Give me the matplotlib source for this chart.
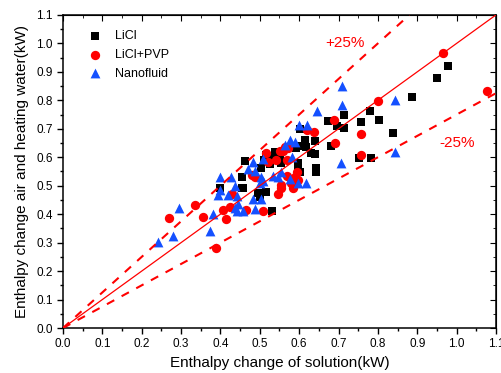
import matplotlib
matplotlib.use("Agg")
import matplotlib.pyplot as plt
import numpy as np
from matplotlib.ticker import MultipleLocator

plt.rcParams['font.family'] = ['Liberation Sans', 'DejaVu Sans']

licl_x = [0.978, 0.950, 0.887, 0.779, 0.803, 0.757, 0.838, 0.751, 0.783, 0.715, 0.695, 0.715, 0.680,
          0.673, 0.601, 0.614, 0.640, 0.593, 0.618, 0.631, 0.640, 0.538, 0.534, 0.517, 0.551, 0.555,
          0.597, 0.644, 0.462, 0.597, 0.601, 0.644, 0.504, 0.456, 0.456, 0.398, 0.458, 0.496, 0.517,
          0.500, 0.530, 0.525, 0.510, 0.601]
licl_y = [0.919, 0.879, 0.812, 0.763, 0.732, 0.725, 0.685, 0.596, 0.596, 0.748, 0.710, 0.703, 0.641,
          0.729, 0.698, 0.661, 0.658, 0.632, 0.635, 0.614, 0.611, 0.620, 0.602, 0.608, 0.602, 0.579,
          0.579, 0.561, 0.588, 0.568, 0.549, 0.549, 0.561, 0.530, 0.491, 0.491, 0.491, 0.473, 0.479,
          0.462, 0.411, 0.575, 0.590, 0.638]

pvp_x = [0.965, 1.077, 0.799, 0.688, 0.756, 0.692, 0.756, 0.620, 0.637, 0.563, 0.559, 0.572, 0.551,
         0.517, 0.568, 0.542, 0.521, 0.595, 0.589, 0.597, 0.568, 0.555, 0.479, 0.487, 0.430, 0.546,
         0.555, 0.585, 0.580, 0.335, 0.270, 0.356, 0.407, 0.415, 0.390, 0.424, 0.466, 0.508]
pvp_y = [0.966, 0.833, 0.798, 0.731, 0.683, 0.649, 0.608, 0.696, 0.687, 0.635, 0.623, 0.634, 0.623,
         0.614, 0.590, 0.590, 0.585, 0.549, 0.532, 0.521, 0.535, 0.503, 0.538, 0.532, 0.471, 0.471,
         0.491, 0.491, 0.509, 0.433, 0.386, 0.390, 0.415, 0.384, 0.280, 0.426, 0.415, 0.412]

nano_x = [0.708, 0.708, 0.843, 0.843, 0.707, 0.646, 0.600, 0.620, 0.576, 0.589, 0.563, 0.583, 0.483,
          0.508, 0.487, 0.470, 0.555, 0.546, 0.534, 0.576, 0.597, 0.618, 0.504, 0.508, 0.398, 0.428,
          0.437, 0.420, 0.394, 0.398, 0.441, 0.445, 0.441, 0.458, 0.437, 0.487, 0.483, 0.504, 0.381,
          0.373, 0.295, 0.280, 0.242, 0.500]
nano_y = [0.850, 0.784, 0.802, 0.620, 0.580, 0.763, 0.712, 0.714, 0.660, 0.655, 0.644, 0.600, 0.585,
          0.593, 0.552, 0.558, 0.549, 0.529, 0.535, 0.523, 0.511, 0.511, 0.529, 0.518, 0.529, 0.532,
          0.500, 0.468, 0.468, 0.485, 0.465, 0.435, 0.412, 0.412, 0.423, 0.418, 0.453, 0.453, 0.400,
          0.341, 0.423, 0.324, 0.301, 0.511]

fig = plt.figure(figsize=(5.01, 3.73), dpi=100)
ax = fig.add_axes([0.1257, 0.1206, 0.8643, 0.8394])

ax.scatter(licl_x, licl_y, marker='s', s=38, color='black', label='LiCl', zorder=3, linewidths=0)
ax.scatter(pvp_x, pvp_y, marker='o', s=45, color='#ff0000', label='LiCl+PVP', zorder=3, linewidths=0)
ax.scatter(nano_x, nano_y, marker='^', s=50, color='#1450ff', label='Nanofluid', zorder=3, linewidths=0)

ax.plot([0, 1.1], [0, 1.1], color='#ff0000', lw=0.9, zorder=4)
ax.plot([0, 0.88], [0, 1.1], color='#ff0000', lw=1.5, ls=(0, (4, 4)), zorder=4)
ax.plot([0, 1.1], [0, 0.825], color='#ff0000', lw=1.5, ls=(0, (4, 4)), zorder=4)

ax.text(0.716, 1.0, '+25%', color='#ff0000', fontsize=11, ha='center', va='center')
ax.text(1.0, 0.65, '-25%', color='#ff0000', fontsize=11, ha='center', va='center')

ax.set_xlim(0, 1.1)
ax.set_ylim(0, 1.1)
ax.xaxis.set_major_locator(MultipleLocator(0.1))
ax.xaxis.set_minor_locator(MultipleLocator(0.05))
ax.yaxis.set_major_locator(MultipleLocator(0.1))
ax.yaxis.set_minor_locator(MultipleLocator(0.05))
ax.xaxis.set_major_formatter(plt.FuncFormatter(lambda v, p: f"{v:.1f}"))
ax.yaxis.set_major_formatter(plt.FuncFormatter(lambda v, p: f"{v:.1f}"))

ax.tick_params(which='both', direction='out', top=False, right=False, labelsize=8.5, width=1)
ax.tick_params(which='major', length=4)
ax.tick_params(which='minor', length=2)

sec_x = ax.secondary_xaxis('top')
sec_x.xaxis.set_major_locator(MultipleLocator(0.1))
sec_x.xaxis.set_minor_locator(MultipleLocator(0.05))
sec_x.tick_params(which='both', direction='in', labeltop=False)
sec_x.tick_params(which='major', length=4)
sec_x.tick_params(which='minor', length=2)
sec_y = ax.secondary_yaxis('right')
sec_y.yaxis.set_major_locator(MultipleLocator(0.1))
sec_y.yaxis.set_minor_locator(MultipleLocator(0.05))
sec_y.tick_params(which='both', direction='in', labelright=False)
sec_y.tick_params(which='major', length=4)
sec_y.tick_params(which='minor', length=2)

for sp in ax.spines.values():
    sp.set_linewidth(1.1)

ax.set_xlabel('Enthalpy change of solution(kW)', fontsize=11, labelpad=4)
ax.set_ylabel('Enthalpy change air and heating water(kW)', fontsize=11, labelpad=5)

leg = ax.legend(loc='upper left', frameon=False, fontsize=9, bbox_to_anchor=(0.025, 0.98),
                handletextpad=0.6, labelspacing=0.55, scatterpoints=1, borderaxespad=0.3)

fig.savefig('out.png', dpi=100)
